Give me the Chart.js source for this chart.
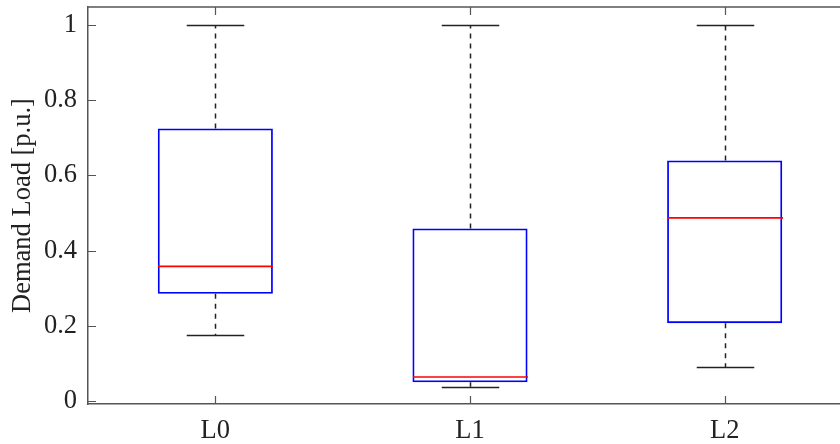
<!DOCTYPE html>
<html>
<head>
<meta charset="utf-8">
<script src="https://cdn.jsdelivr.net/npm/chart.js@4.4.0/dist/chart.umd.min.js"></script>
<style>
  html, body { margin: 0; padding: 0; background: #fff; overflow: hidden; }
  #wrap { width: 852px; height: 444px; }
</style>
</head>
<body>
<div id="wrap"><canvas id="boxChart" width="852" height="444"></canvas></div>
<script>
    // box plot data
    const categories = ['L0', 'L1', 'L2'];
    const whiskerLow = [0.175, 0.038, 0.09];
    const q1 = [0.285, 0.050, 0.207];
    const median = [0.358, 0.064, 0.487];
    const q3 = [0.725, 0.459, 0.640];
    const whiskerHigh = [1.0, 1.0, 1.0];
    const yTicks = [0, 0.2, 0.4, 0.6, 0.8, 1];
    const yTickLabels = ['0', '0.2', '0.4', '0.6', '0.8', '1'];

    const axisColor = '#555555';
    const textColor = '#222222';
    const fontFamily = "'Liberation Serif', 'Times New Roman', Times, serif";
    const fontSize = 26.5;

    // whiskers, caps, medians, frame and inward tick marks
    const boxExtras = {
        id: 'boxExtras',
        afterDatasetsDraw(chart) {
            const ctx = chart.ctx;
            const x = chart.scales.x;
            const y = chart.scales.y;
            const area = chart.chartArea;
            const bars = chart.getDatasetMeta(0).data;
            ctx.save();
            bars.forEach((bar, i) => {
                const cx = Math.round(bar.x) + 0.5;
                const half = bar.width / 2;
                const capHalf = bar.width / 4;
                // dashed whiskers
                ctx.strokeStyle = '#222';
                ctx.lineWidth = 1.5;
                ctx.setLineDash([5, 5]);
                ctx.beginPath();
                ctx.moveTo(cx, y.getPixelForValue(q3[i]));
                ctx.lineTo(cx, y.getPixelForValue(whiskerHigh[i]));
                ctx.moveTo(cx, y.getPixelForValue(q1[i]));
                ctx.lineTo(cx, y.getPixelForValue(whiskerLow[i]));
                ctx.stroke();
                ctx.setLineDash([]);
                // caps
                ctx.beginPath();
                const yh = Math.round(y.getPixelForValue(whiskerHigh[i])) + 0.5;
                const yl = Math.round(y.getPixelForValue(whiskerLow[i])) + 0.5;
                ctx.moveTo(cx - capHalf, yh); ctx.lineTo(cx + capHalf, yh);
                ctx.moveTo(cx - capHalf, yl); ctx.lineTo(cx + capHalf, yl);
                ctx.stroke();
                // median
                ctx.strokeStyle = '#ff0000';
                ctx.lineWidth = 1.6;
                ctx.beginPath();
                const ym = y.getPixelForValue(median[i]);
                ctx.moveTo(cx - half, ym); ctx.lineTo(cx + half, ym);
                ctx.stroke();
            });

            // frame top line
            ctx.strokeStyle = axisColor;
            ctx.lineWidth = 1.5;
            ctx.beginPath();
            ctx.moveTo(area.left, area.top);
            ctx.lineTo(area.right, area.top);
            ctx.stroke();

            // inward ticks
            const tl = 8;
            ctx.lineWidth = 1.2;
            ctx.beginPath();
            y.ticks.forEach((t, i) => {
                const py = Math.round(y.getPixelForTick(i)) + 0.5;
                ctx.moveTo(area.left, py); ctx.lineTo(area.left + tl, py);
            });
            x.ticks.forEach((t, i) => {
                const px = Math.round(x.getPixelForTick(i)) + 0.5;
                ctx.moveTo(px, area.bottom); ctx.lineTo(px, area.bottom - tl);
                ctx.moveTo(px, area.top); ctx.lineTo(px, area.top + tl);
            });
            ctx.stroke();
            ctx.restore();
        }
    };

    new Chart(document.getElementById('boxChart'), {
        type: 'bar',
        data: {
            labels: categories,
            datasets: [{
                label: 'IQR',
                data: categories.map((_, i) => [q1[i], q3[i]]),
                backgroundColor: 'rgba(0,0,0,0)',
                borderColor: '#0000ff',
                borderWidth: 1.8,
                borderSkipped: false,
                barPercentage: 0.452,
                categoryPercentage: 1.0
            }]
        },
        options: {
            responsive: false,
            animation: false,
            layout: { padding: { top: 7, right: 0, left: 0, bottom: 0 } },
            plugins: {
                legend: { display: false },
                tooltip: { enabled: false }
            },
            scales: {
                x: {
                    grid: { display: false, drawTicks: false },
                    border: { display: true, color: axisColor, width: 1.5 },
                    ticks: {
                        color: textColor,
                        padding: 11,
                        font: { family: fontFamily, size: fontSize }
                    },
                    afterFit(scale) {
                        scale.height = 40;
                        scale.paddingLeft = 0;
                        scale.paddingRight = 0;
                    }
                },
                y: {
                    min: -0.008,
                    max: 1.048,
                    grid: { display: false, drawTicks: false },
                    border: { display: true, color: axisColor, width: 1.5 },
                    afterBuildTicks(scale) {
                        scale.ticks = yTicks.map(v => ({ value: v }));
                    },
                    ticks: {
                        color: textColor,
                        padding: 11,
                        font: { family: fontFamily, size: fontSize },
                        callback: (v) => yTickLabels[yTicks.indexOf(v)]
                    },
                    title: {
                        display: true,
                        text: 'Demand Load [p.u.]',
                        color: textColor,
                        padding: { top: 7, bottom: 0 },
                        font: { family: fontFamily, size: fontSize }
                    },
                    afterFit(scale) {
                        scale.width = 88;
                        scale.paddingTop = 0;
                        scale.paddingBottom = 0;
                    }
                }
            }
        },
        plugins: [boxExtras]
    });
</script>
</body>
</html>
